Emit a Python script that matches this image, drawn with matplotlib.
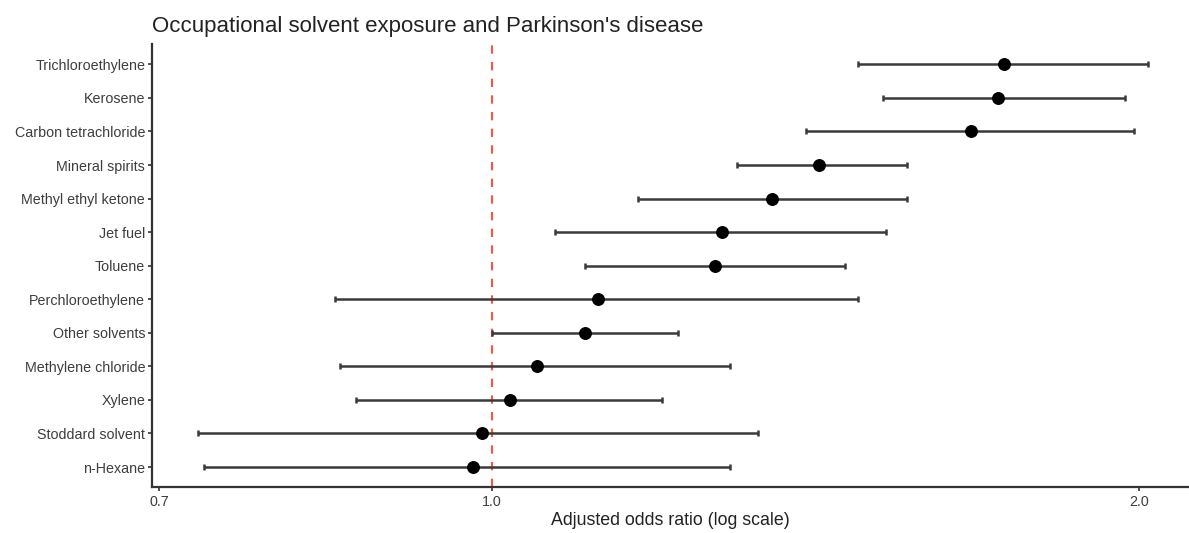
import matplotlib
matplotlib.use("Agg")
import matplotlib.pyplot as plt
from matplotlib.ticker import FixedLocator, NullLocator

plt.rcParams['font.family'] = ['Liberation Sans', 'DejaVu Sans']

solvents = ["Trichloroethylene", "Kerosene", "Carbon tetrachloride", "Mineral spirits",
            "Methyl ethyl ketone", "Jet fuel", "Toluene", "Perchloroethylene",
            "Other solvents", "Methylene chloride", "Xylene", "Stoddard solvent", "n-Hexane"]
odds_ratio = [1.73, 1.72, 1.67, 1.42, 1.35, 1.28, 1.27, 1.12, 1.105, 1.05, 1.02, 0.99, 0.98]
ci_low = [1.48, 1.52, 1.40, 1.30, 1.17, 1.07, 1.105, 0.845, 1.00, 0.85, 0.865, 0.73, 0.735]
ci_high = [2.02, 1.97, 1.99, 1.56, 1.56, 1.525, 1.46, 1.48, 1.22, 1.29, 1.20, 1.33, 1.29]
x_ticks = [0.7, 1.0, 2.0]
x_tick_labels = ["0.7", "1.0", "2.0"]

fig = plt.figure(figsize=(11.89, 5.33), dpi=100)
ax = fig.add_axes([0.128, 0.086, 0.872, 0.831])

n = len(solvents)
ypos = [n - i for i in range(n)]
err_lo = [o - l for o, l in zip(odds_ratio, ci_low)]
err_hi = [h - o for o, h in zip(odds_ratio, ci_high)]

ax.axvline(1.0, color="#F8573F", linestyle=(0, (4, 4)), linewidth=1.5, zorder=1)
ax.errorbar(odds_ratio, ypos, xerr=[err_lo, err_hi], fmt="none", ecolor="#3a3a3a",
            elinewidth=1.8, capsize=2.5, capthick=1.8, zorder=2)
ax.plot(odds_ratio, ypos, "o", color="black", markersize=8.3, zorder=3)

ax.set_xscale("log")
ax.set_xlim(0.695, 2.11)
ax.xaxis.set_major_locator(FixedLocator(x_ticks))
ax.xaxis.set_minor_locator(NullLocator())
ax.set_xticklabels(x_tick_labels)
ax.set_ylim(0.4, n + 0.6)
ax.set_yticks(ypos)
ax.set_yticklabels(solvents)

for s in ["top", "right"]:
    ax.spines[s].set_visible(False)
for s in ["left", "bottom"]:
    ax.spines[s].set_linewidth(1.6)
    ax.spines[s].set_color("#333333")

ax.tick_params(axis="y", length=3, width=1.2, color="#333333", labelsize=10.3,
               labelcolor="#3d3d3d", pad=2)
ax.tick_params(axis="x", length=3, width=1.2, color="#333333", labelsize=10.3,
               labelcolor="#3d3d3d", pad=3)
ax.set_xlabel("Adjusted odds ratio (log scale)", fontsize=12.8, color="#222222", labelpad=2)
ax.set_title("Occupational solvent exposure and Parkinson's disease", fontsize=16,
             loc="left", color="#222222", pad=9)

fig.savefig("out.png", dpi=100)
